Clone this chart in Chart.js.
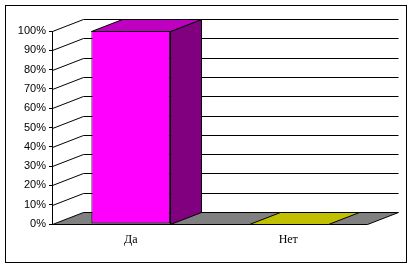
<!DOCTYPE html>
<html>
<head>
<meta charset="utf-8">
<script src="https://cdn.jsdelivr.net/npm/chart.js@4/dist/chart.umd.min.js"></script>
<style>
  html, body { margin: 0; padding: 0; background: #fff; }
  #wrap { width: 413px; height: 268px; position: relative; }
</style>
</head>
<body>
<div id="wrap"><canvas id="c" width="413" height="268"></canvas></div>
<script>
// ---- data ----
const categories = ['Да', 'Нет'];
const values = [100, 0];
const yTickValues = [0, 10, 20, 30, 40, 50, 60, 70, 80, 90, 100];

// ---- styles ----
const frontColors = ['#FF00FF', '#FFFF00'];
const topColors = ['#C000C0', '#C0C000'];
const sideColors = ['#800080', '#808000'];
const floorColor = '#808080';
const DX = 31, DY = -12;

const box3d = {
  id: 'box3d',
  beforeDraw(chart) {
    const ctx = chart.ctx;
    ctx.save();
    ctx.fillStyle = '#fff';
    ctx.fillRect(0, 0, chart.width, chart.height);
    ctx.strokeStyle = '#000';
    ctx.lineWidth = 1;
    ctx.strokeRect(5.5, 5.5, 401, 257);
    ctx.restore();
  },
  beforeDatasetsDraw(chart) {
    const ctx = chart.ctx;
    const a = chart.chartArea;
    const x = chart.scales.x, y = chart.scales.y;
    const L = Math.round(a.left) + 0.5, R = Math.round(a.right) + 0.5;
    ctx.save();
    ctx.strokeStyle = '#000';
    ctx.lineWidth = 1;
    // back wall gridlines
    yTickValues.forEach(v => {
      if (v === 0) return;
      const py = Math.round(y.getPixelForValue(v)) + 0.5;
      ctx.beginPath();
      ctx.moveTo(L, py);
      ctx.lineTo(L + DX, py + DY);
      ctx.lineTo(R + DX, py + DY);
      ctx.stroke();
    });
    // floor
    const p0 = Math.round(y.getPixelForValue(0)) + 0.5;
    ctx.beginPath();
    ctx.moveTo(L, p0);
    ctx.lineTo(R, p0);
    ctx.lineTo(R + DX, p0 + DY);
    ctx.lineTo(L + DX, p0 + DY);
    ctx.closePath();
    ctx.fillStyle = floorColor;
    ctx.fill();
    ctx.stroke();
    // bars: top and side faces
    const meta = chart.getDatasetMeta(0);
    meta.data.forEach((bar, i) => {
      const p = bar.getProps(['x', 'y', 'base', 'width'], true);
      const l = Math.round(p.x - p.width / 2) + 0.5;
      const r = Math.round(p.x + p.width / 2) + 0.5;
      const t = Math.round(p.y) + 0.5;
      const b = Math.round(p.base) + 0.5;
      // side
      if (b - t > 0.5) {
        ctx.beginPath();
        ctx.moveTo(r, t);
        ctx.lineTo(r + DX, t + DY);
        ctx.lineTo(r + DX, b + DY);
        ctx.lineTo(r, b);
        ctx.closePath();
        ctx.fillStyle = sideColors[i];
        ctx.fill();
        ctx.stroke();
      }
      // top
      ctx.beginPath();
      ctx.moveTo(l, t);
      ctx.lineTo(r, t);
      ctx.lineTo(r + DX, t + DY);
      ctx.lineTo(l + DX, t + DY);
      ctx.closePath();
      ctx.fillStyle = topColors[i];
      ctx.fill();
      ctx.stroke();
    });
    ctx.restore();
  }
};

new Chart(document.getElementById('c'), {
  type: 'bar',
  data: {
    labels: categories,
    datasets: [{
      data: values,
      backgroundColor: frontColors,
      borderColor: '#000',
      borderWidth: 1,
      borderSkipped: false,
      barPercentage: 0.5,
      categoryPercentage: 1.0
    }]
  },
  options: {
    responsive: false,
    animation: false,
    devicePixelRatio: 1,
    layout: { padding: { left: 0, top: 31, right: 46, bottom: 0 } },
    plugins: { legend: { display: false }, tooltip: { enabled: false } },
    scales: {
      x: {
        grid: { display: false, drawTicks: false },
        border: { display: false },
        ticks: { color: '#000', padding: 9, font: { family: 'Liberation Serif', size: 12 } },
        afterFit: s => { s.height = 44; }
      },
      y: {
        min: 0, max: 100,
        afterBuildTicks: s => { s.ticks = yTickValues.map(v => ({ value: v })); },
        grid: { drawOnChartArea: false, drawTicks: true, tickLength: 3, color: '#000' },
        border: { display: true, color: '#000' },
        ticks: { color: '#000', padding: 3, font: { family: 'Liberation Sans', size: 11 },
                 callback: v => v + '%' },
        afterFit: s => { s.width = 52; }
      }
    }
  },
  plugins: [box3d]
});
</script>
</body>
</html>
